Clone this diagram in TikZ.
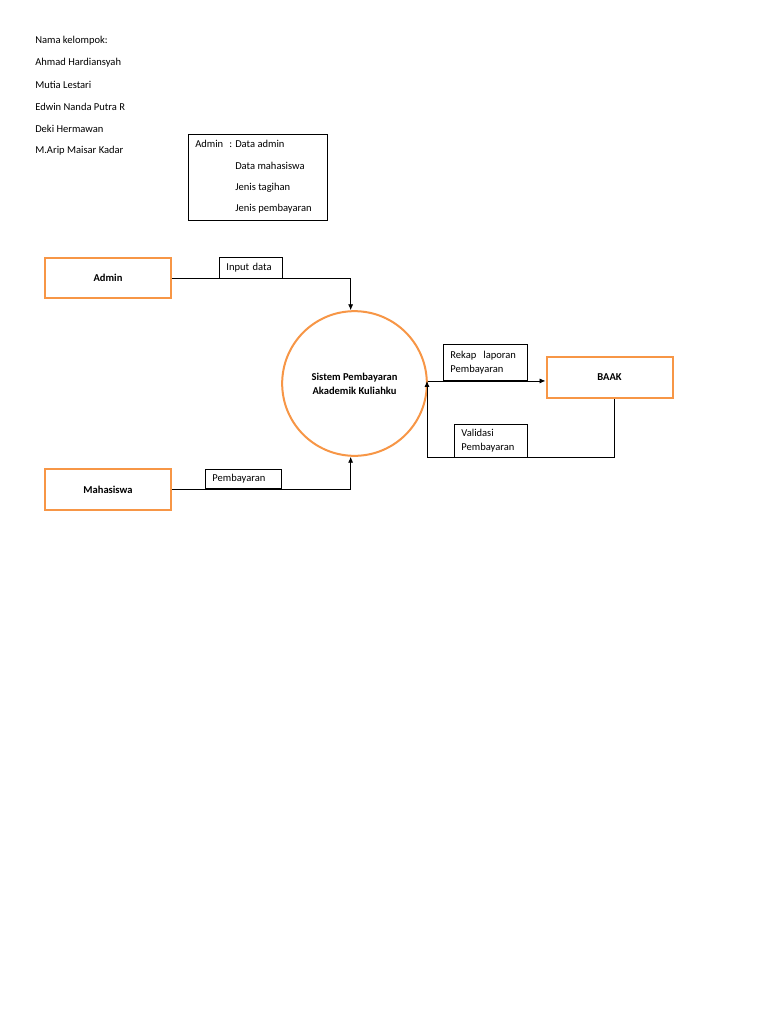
\documentclass[tikz,border=0pt]{standalone}
\usepackage{fontspec}
\setmainfont{Carlito}
\usetikzlibrary{arrows.meta,positioning}

\definecolor{oranye}{HTML}{F79646}

\tikzset{
	teks/.style = {anchor=west, inner sep=0pt},
	entitas/.style = {draw=oranye, line width=1.5pt, minimum width=94.5pt, minimum height=30.5pt, font=\fontsize{7.9}{10.5}\selectfont\bfseries},
	proses/.style = {circle, draw=oranye, line width=1.5pt, minimum size=108.5pt, align=center, font=\fontsize{7.9}{10.5}\selectfont\bfseries},
	label/.style = {draw, line width=0.6pt, anchor=north west, inner xsep=5.25pt, inner ysep=0pt, align=left, font=\fontsize{7.9}{10.5}\selectfont},
	alir/.style = {line width=0.6pt, -{Latex[length=4.5pt,width=3.8pt]}}
}

\begin{document}
\begin{tikzpicture}[
			x = 0.75pt,
			y = -0.75pt,
			font = \fontsize{7.9}{10.5}\selectfont
			]

			\path[fill=white, use as bounding box] (0,0) rectangle (768,1024);

			% nama kelompok
			\node[teks] (judul) at (35,41) {Nama kelompok:};
			\node[teks] (nama1) at (35,63) {Ahmad Hardiansyah};
			\node[teks] (nama2) at (35,85) {Mutia Lestari};
			\node[teks] (nama3) at (35,107) {Edwin Nanda Putra R};
			\node[teks] (nama4) at (35,129) {Deki Hermawan};
			\node[teks] (nama5) at (35,151) {M.Arip Maisar Kadar};

			% keterangan admin
			\node[draw, line width=0.6pt, anchor=north west, minimum width=104.25pt, minimum height=64.5pt] (kamus) at (188,134) {};
			\node[teks] (kadmin) at (195,144) {Admin};
			\node[teks] (k1) at (229,144) {: Data admin};
			\node[teks] (k2) at (235,166) {Data mahasiswa};
			\node[teks] (k3) at (235,188) {Jenis tagihan};
			\node[teks] (k4) at (235,209) {Jenis pembayaran};

			% entitas dan proses
			\node[entitas] (admin) at (108,278) {Admin};
			\node[entitas] (mhs) at (108,489.5) {Mahasiswa};
			\node[entitas] (baak) at (609.5,377.5) {BAAK};
			\node[proses] (sistem) at (354.5,383.5) {Sistem Pembayaran\\Akademik Kuliahku};

			% label aliran
			\node[label, minimum width=47.25pt, minimum height=15.75pt, text width=36.75pt] (linput) at (219,257) {Input data};
			\node[label, minimum width=57pt, minimum height=14.25pt, text width=46.5pt] (lbayar) at (205,469) {Pembayaran};
			\node[label, minimum width=63pt, minimum height=27pt, text width=52.5pt] (lrekap) at (443,344) {Rekap\ \ laporan\\Pembayaran};
			\node[label, minimum width=54.75pt, minimum height=24.75pt, text width=44.25pt] (lvalid) at (454,424) {Validasi\\Pembayaran};

			\coordinate (balik) at (427,457);

			\draw[alir] (admin.east) -| (sistem.93);
			\draw[alir] (mhs.east) -| (sistem.267);
			\draw[alir] (sistem.2) -- (sistem.2 -| baak.west);
			\draw[alir] ([xshift=3.5pt]baak.south) |- (balik) -- (balik |- sistem.2);

		\end{tikzpicture}
\end{document}
